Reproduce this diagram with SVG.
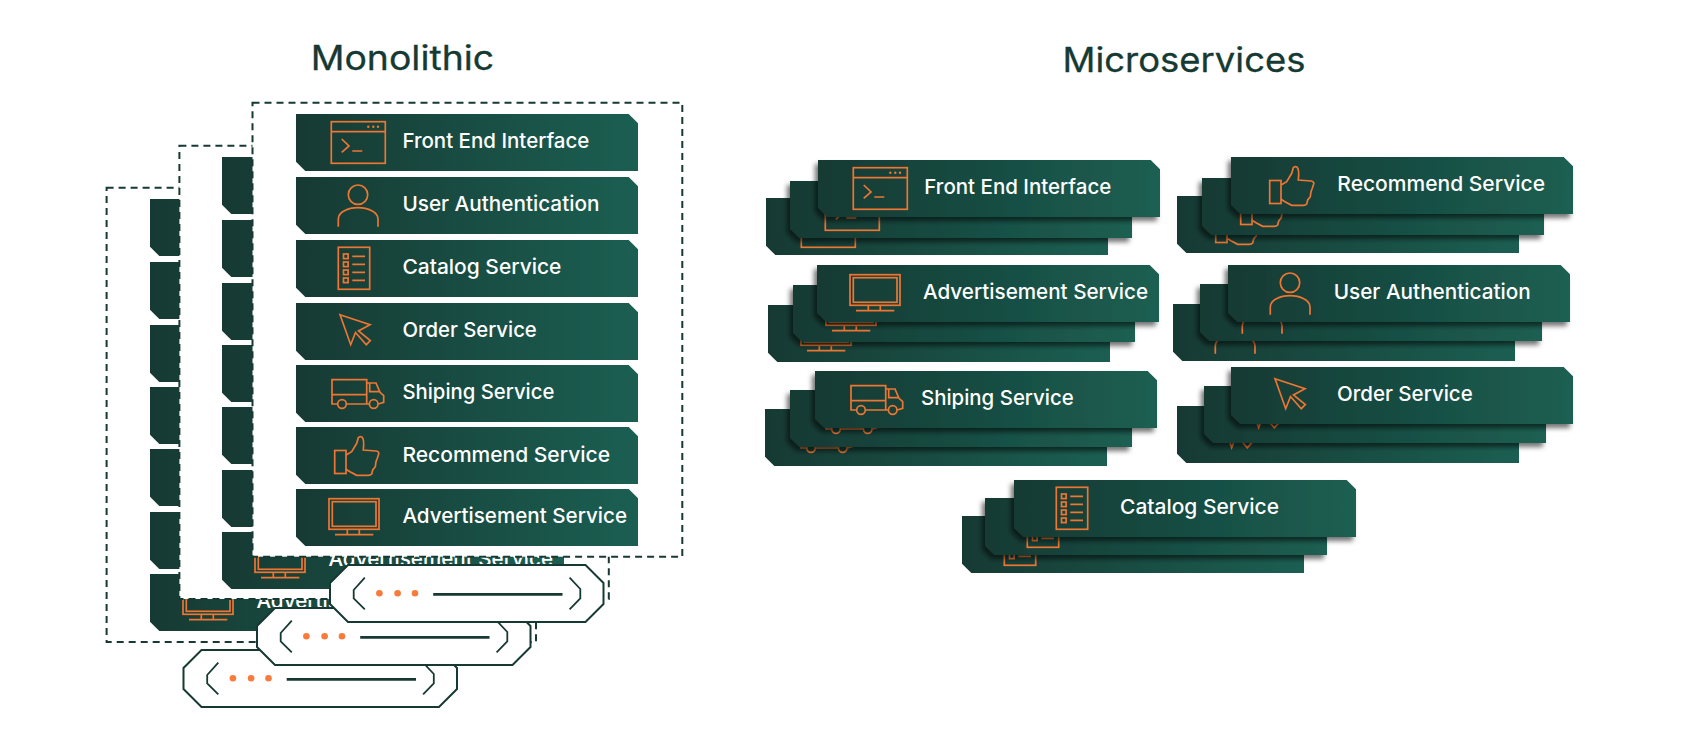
<svg xmlns="http://www.w3.org/2000/svg" width="1691" height="734" viewBox="0 0 1691 734">
<style>
.title{font-family:Inter,"Liberation Sans",sans-serif;font-size:33.5px;font-weight:400;fill:#163a33;stroke:#163a33;stroke-width:.3}
.t{font-family:Inter,"Liberation Sans",sans-serif;font-size:20.5px;font-weight:500;fill:#fff}
.ic{fill:none;stroke:#ee7633;stroke-width:1.7;stroke-linejoin:miter}
.box{fill:#fff;stroke:#163a33;stroke-width:2;stroke-dasharray:7 5}
.cap{fill:#fff;stroke:#163a33;stroke-width:2}
.br{fill:none;stroke:#163a33;stroke-width:1.8}
.ln{stroke:#163a33;stroke-width:2.8}
.dot{fill:#f97b3b}
.sh{filter:url(#shadow)}
</style>
<defs>
<linearGradient id="grad" x1="0" y1="0" x2="1" y2="0"><stop offset="0" stop-color="#163a33"/><stop offset="1" stop-color="#1b5f52"/></linearGradient>
<filter id="shadow" x="-5%" y="-20%" width="110%" height="145%"><feDropShadow dx="-3" dy="4" stdDeviation="2.5" flood-color="#000" flood-opacity=".55"/></filter>
<path id="card" fill="url(#grad)" d="M0 0H332.7L342 9.3V57H9.3L0 47.7Z"/>
<g id="i-term" class="ic"><rect x="35.3" y="7.7" width="54" height="41.6"/><path d="M35.3 17.7H89.3M45.7 25L53 32L45.7 38.3M56.3 37H66.3"/><g style="fill:#ee7633;stroke:none"><circle cx="72.3" cy="12.7" r="1.2"/><circle cx="77.3" cy="12.7" r="1.2"/><circle cx="82" cy="12.7" r="1.2"/></g></g>
<g id="i-user" class="ic"><circle cx="62" cy="17.7" r="9.7"/><path d="M42.3 49.7V42C42.3 35 52 30.7 62 30.7S82 35 82 42V49.7"/></g>
<g id="i-list" class="ic"><rect x="42.3" y="7.3" width="31.4" height="42"/><path d="M56.3 16.3H69M56.3 24.3H69M56.3 32.3H69M56.3 40.3H69"/><rect x="47.5" y="14" width="4.6" height="4.6"/><rect x="47.5" y="22" width="4.6" height="4.6"/><rect x="47.5" y="30" width="4.6" height="4.6"/><rect x="47.5" y="38" width="4.6" height="4.6"/></g>
<path id="i-cursor" class="ic" d="M44 11.7L74 21.7L62.5 28L74.3 37.5L70.3 41.7L59.5 29.5L54.7 41.7Z"/>
<g id="i-truck" class="ic"><path d="M41.7 39H36V14.7H70.7V39M36 29.7H70.7M50.3 39H73M70.7 18H80L84 27.3L87.7 30.7V37.3L82.3 39M73.7 18V26.7H84"/><circle cx="46" cy="39" r="4.3"/><circle cx="77.7" cy="39" r="4.3"/></g>
<g id="i-thumb" class="ic"><rect x="38.7" y="23.5" width="11.3" height="23"/><path d="M50 28L55.7 24.7L60.7 16.3L62.3 10.7C63.5 9.3 65 9.3 66 10.2C68 12 68 17 67.3 23L80 24C82.5 24.4 83.2 26 82.7 27L81.3 31.3L80 34.7L79.3 39.7L76.7 43L75.7 47C74.5 48.3 73.5 48.3 72.3 48.3H60.7L54 44.7L50 42.3"/></g>
<g id="i-mon" class="ic"><rect x="33" y="9.7" width="50" height="30.6"/><rect x="36.3" y="12.7" width="43.7" height="24.6"/><path d="M51.3 40.3V45.7M63.3 40.3V45.7M39 45.7H77.3"/></g>
<g id="capsule"><path class="cap" d="M18 0H255.5L273.5 18V39L255.5 57H18L0 39V18Z"/><path class="br" d="M34.8 12.7L23.7 25V33.3L34.8 44.3M239.6 12.7L250.3 24V33.3L239.6 44.3"/><circle class="dot" cx="49.4" cy="28.3" r="3.3"/><circle class="dot" cx="67.6" cy="28.3" r="3.3"/><circle class="dot" cx="85" cy="28.3" r="3.3"/><path class="ln" d="M103.2 29.3H232.5"/></g>
</defs>
<rect width="1691" height="734" fill="#fff"/>
<text class="title" x="310.7" y="70" textLength="183.5" lengthAdjust="spacingAndGlyphs">Monolithic</text>
<text class="title" x="1062.5" y="71.7" textLength="243" lengthAdjust="spacingAndGlyphs">Microservices</text>

<g id="mono-back">
<rect class="box" x="106.6" y="187.7" width="429.4" height="454.3"/>
<use href="#card" x="150" y="199"/><use href="#card" x="150" y="262"/><use href="#card" x="150" y="325"/><use href="#card" x="150" y="387"/><use href="#card" x="150" y="449"/><use href="#card" x="150" y="512"/><use href="#card" x="150" y="574"/>
<use href="#i-mon" x="150" y="574"/><text class="t" x="256.4" y="608" textLength="224.6" lengthAdjust="spacingAndGlyphs">Advertisement Service</text>
</g>
<g id="mono-mid">
<rect class="box" x="179.4" y="145.7" width="429.4" height="453.3"/>
<use href="#card" x="222" y="157"/><use href="#card" x="222" y="220"/><use href="#card" x="222" y="283"/><use href="#card" x="222" y="345"/><use href="#card" x="222" y="407"/><use href="#card" x="222" y="470"/><use href="#card" x="222" y="532"/>
<use href="#i-mon" x="222" y="532"/><text class="t" x="328.4" y="566" textLength="224.6" lengthAdjust="spacingAndGlyphs">Advertisement Service</text>
</g>
<g id="mono-front">
<rect class="box" x="252.5" y="102.7" width="429.8" height="454"/>
<g id="mono-front-end"><use href="#card" x="296" y="114"/><use href="#i-term" x="296" y="114"/><text class="t" x="402.4" y="148" textLength="187" lengthAdjust="spacingAndGlyphs">Front End Interface</text></g>
<g id="mono-user"><use href="#card" x="296" y="177"/><use href="#i-user" x="296" y="177"/><text class="t" x="402.4" y="211" textLength="197" lengthAdjust="spacingAndGlyphs">User Authentication</text></g>
<g id="mono-catalog"><use href="#card" x="296" y="240"/><use href="#i-list" x="296" y="240"/><text class="t" x="402.4" y="274" textLength="159" lengthAdjust="spacingAndGlyphs">Catalog Service</text></g>
<g id="mono-order"><use href="#card" x="296" y="303"/><use href="#i-cursor" x="296" y="303"/><text class="t" x="402.4" y="337" textLength="134.4" lengthAdjust="spacingAndGlyphs">Order Service</text></g>
<g id="mono-shiping"><use href="#card" x="296" y="365"/><use href="#i-truck" x="296" y="365"/><text class="t" x="402.4" y="399" textLength="152" lengthAdjust="spacingAndGlyphs">Shiping Service</text></g>
<g id="mono-recommend"><use href="#card" x="296" y="427"/><use href="#i-thumb" x="296" y="427"/><text class="t" x="402.4" y="461.5" textLength="207.6" lengthAdjust="spacingAndGlyphs">Recommend Service</text></g>
<g id="mono-advert"><use href="#card" x="296" y="489"/><use href="#i-mon" x="296" y="489"/><text class="t" x="402.4" y="523" textLength="224.6" lengthAdjust="spacingAndGlyphs">Advertisement Service</text></g>
</g>
<g id="capsules">
<use id="capsule-3" href="#capsule" x="183.5" y="650"/>
<use id="capsule-2" href="#capsule" x="257" y="608"/>
<use id="capsule-1" href="#capsule" x="330" y="565"/>
</g>

<g id="ms-front-end">
<use href="#card" x="766" y="198"/><use href="#i-term" x="766" y="198"/>
<use class="sh" href="#card" x="790" y="181"/><use href="#i-term" x="790" y="181"/>
<use class="sh" href="#card" x="818" y="160"/><use href="#i-term" x="818" y="160"/>
<text class="t" x="924.3" y="194" textLength="187" lengthAdjust="spacingAndGlyphs">Front End Interface</text>
</g>
<g id="ms-advert">
<use href="#card" x="768" y="305"/><use href="#i-mon" x="768" y="305"/>
<use class="sh" href="#card" x="793" y="285"/><use href="#i-mon" x="793" y="285"/>
<use class="sh" href="#card" x="817" y="265"/><use href="#i-mon" x="817" y="265"/>
<text class="t" x="923" y="299" textLength="225" lengthAdjust="spacingAndGlyphs">Advertisement Service</text>
</g>
<g id="ms-shiping">
<use href="#card" x="765" y="409"/><use href="#i-truck" x="765" y="409"/>
<use class="sh" href="#card" x="790" y="390"/><use href="#i-truck" x="790" y="390"/>
<use class="sh" href="#card" x="815" y="371"/><use href="#i-truck" x="815" y="371"/>
<text class="t" x="921" y="405" textLength="152.7" lengthAdjust="spacingAndGlyphs">Shiping Service</text>
</g>
<g id="ms-catalog">
<use href="#card" x="962" y="516"/><use href="#i-list" x="962" y="516"/>
<use class="sh" href="#card" x="985" y="498"/><use href="#i-list" x="985" y="498"/>
<use class="sh" href="#card" x="1014" y="480"/><use href="#i-list" x="1014" y="480"/>
<text class="t" x="1120" y="514" textLength="159" lengthAdjust="spacingAndGlyphs">Catalog Service</text>
</g>
<g id="ms-recommend">
<use href="#card" x="1177" y="196"/><use href="#i-thumb" x="1177" y="196"/>
<use class="sh" href="#card" x="1202" y="178"/><use href="#i-thumb" x="1202" y="178"/>
<use class="sh" href="#card" x="1231" y="157"/><use href="#i-thumb" x="1231" y="157"/>
<text class="t" x="1337.3" y="191" textLength="207.7" lengthAdjust="spacingAndGlyphs">Recommend Service</text>
</g>
<g id="ms-user">
<use href="#card" x="1173" y="304"/><use href="#i-user" x="1173" y="304"/>
<use class="sh" href="#card" x="1200" y="284"/><use href="#i-user" x="1200" y="284"/>
<use class="sh" href="#card" x="1228" y="265"/><use href="#i-user" x="1228" y="265"/>
<text class="t" x="1333.7" y="299" textLength="197" lengthAdjust="spacingAndGlyphs">User Authentication</text>
</g>
<g id="ms-order">
<use href="#card" x="1177" y="406"/><use href="#i-cursor" x="1177" y="406"/>
<use class="sh" href="#card" x="1204" y="386"/><use href="#i-cursor" x="1204" y="386"/>
<use class="sh" href="#card" x="1231" y="367"/><use href="#i-cursor" x="1231" y="367"/>
<text class="t" x="1337" y="401" textLength="135.7" lengthAdjust="spacingAndGlyphs">Order Service</text>
</g>
</svg>
